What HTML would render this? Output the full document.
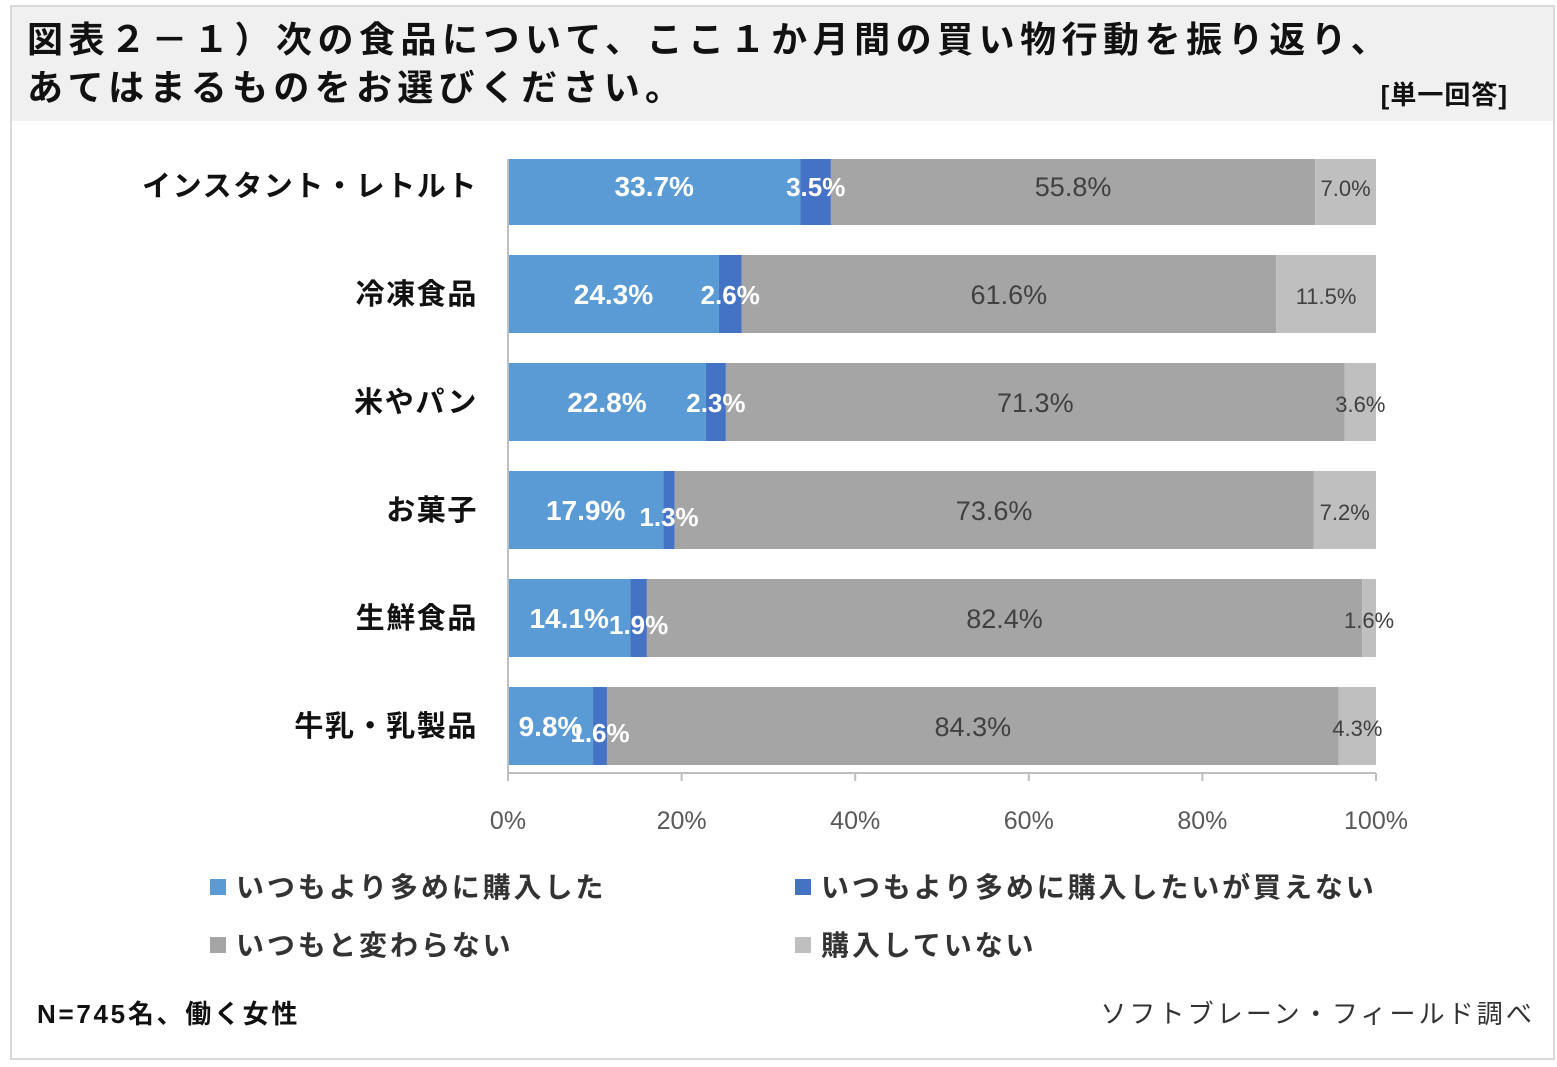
<!DOCTYPE html>
<html><head><meta charset="utf-8"><style>
body{margin:0;background:#fff;}
svg text{font-family:"Liberation Sans","Noto Sans CJK JP",sans-serif;}
</style></head><body>
<svg width="1557" height="1062">
<rect x="11" y="6" width="1543" height="1053" fill="#fff" stroke="#d9d9d9" stroke-width="2"/>
<rect x="12" y="7" width="1541" height="114" fill="#f0f0f0"/>
<text x="27" y="52" font-size="36" font-weight="bold" fill="#111" letter-spacing="5.5">図表２－１）次の食品について、ここ１か月間の買い物行動を振り返り、</text>
<text x="27" y="100" font-size="36" font-weight="bold" fill="#111" letter-spacing="5.3">あてはまるものをお選びください。</text>
<text x="1508" y="104" font-size="26" font-weight="bold" fill="#111" text-anchor="end" letter-spacing="1">[単一回答]</text>
<g id="plot"></g>
<text x="37" y="1023" font-size="26" font-weight="bold" fill="#111" letter-spacing="2.7">N=745名、働く女性</text>
<text x="1535" y="1023" font-size="26" fill="#333" text-anchor="end" letter-spacing="3.1">ソフトブレーン・フィールド調べ</text>
</svg>
<script>
const categories=["インスタント・レトルト","冷凍食品","米やパン","お菓子","生鮮食品","牛乳・乳製品"];
const s1=[33.7,24.3,22.8,17.9,14.1,9.8];
const s2=[3.5,2.6,2.3,1.3,1.9,1.6];
const s3=[55.8,61.6,71.3,73.6,82.4,84.3];
const s4=[7.0,11.5,3.6,7.2,1.6,4.3];
const seriesNames=["いつもより多めに購入した","いつもより多めに購入したいが買えない","いつもと変わらない","購入していない"];
const ticks=[0,20,40,60,80,100];
const NS="http://www.w3.org/2000/svg";
const g=document.getElementById('plot');
const X0=508,X1=1376,TOP=159,AX=773;
const xs=v=>X0+(X1-X0)*v/100;
const yc=i=>186+108*i;
const colors=["#5b9bd5","#4472c4","#a5a5a5","#bfbfbf"];
const tcol=["#fff","#fff","#404040","#404040"];
const fsz=[28,26,27,22];
function mk(t,a){const e=document.createElementNS(NS,t);for(const k in a)e.setAttribute(k,a[k]);g.appendChild(e);return e;}
const series=[s1,s2,s3,s4];
categories.forEach((c,i)=>{
  let acc=0;
  const t=mk('text',{x:478,y:yc(i)+10,'font-size':29,'font-weight':'bold',fill:'#111','text-anchor':'end','letter-spacing':1.6});
  t.textContent=c;
  
  
  series.forEach((s,k)=>{
    const v=s[i];
    const top=Math.max(yc(i)-39,TOP);
    const r=mk('rect',{x:xs(acc),y:top,width:xs(acc+v)-xs(acc),height:yc(i)+39-top,fill:colors[k]});
    
    
    acc+=v;
  });
  acc=0;
  series.forEach((s,k)=>{
    const v=s[i];
    const cx=xs(acc+v/2);acc+=v;
    const dy=(k===1&&v<2)?16:10;
    const lt=mk('text',{x:cx,y:yc(i)+dy,'font-size':fsz[k],fill:tcol[k],'text-anchor':'middle','font-weight':k<2?'bold':'normal'});
    lt.textContent=v.toFixed(1)+"%";
    
    
  });
});
const ya=mk('line',{x1:X0,y1:TOP,x2:X0,y2:AX,stroke:'#bfbfbf','stroke-width':2});


const xa=mk('line',{x1:X0,y1:AX,x2:X1,y2:AX,stroke:'#bfbfbf','stroke-width':2});


ticks.forEach(tv=>{
  const tk=mk('line',{x1:xs(tv),y1:AX,x2:xs(tv),y2:AX+8,stroke:'#bfbfbf','stroke-width':2});
  
  
  const tl=mk('text',{x:xs(tv),y:829,'font-size':25,fill:'#595959','text-anchor':'middle'});
  tl.textContent=tv+"%";
  
  
});
const lx=[210,795,210,795],ly=[887,887,945,945];
seriesNames.forEach((n,k)=>{
  const sq=mk('rect',{x:lx[k],y:ly[k]-8,width:16,height:16,fill:colors[k]});
  
  
  const lt=mk('text',{x:lx[k]+26,y:ly[k]+10,'font-size':28,'font-weight':'bold',fill:'#333','letter-spacing':2.9});
  lt.textContent=n;
  
  
});
</script>
</body></html>
